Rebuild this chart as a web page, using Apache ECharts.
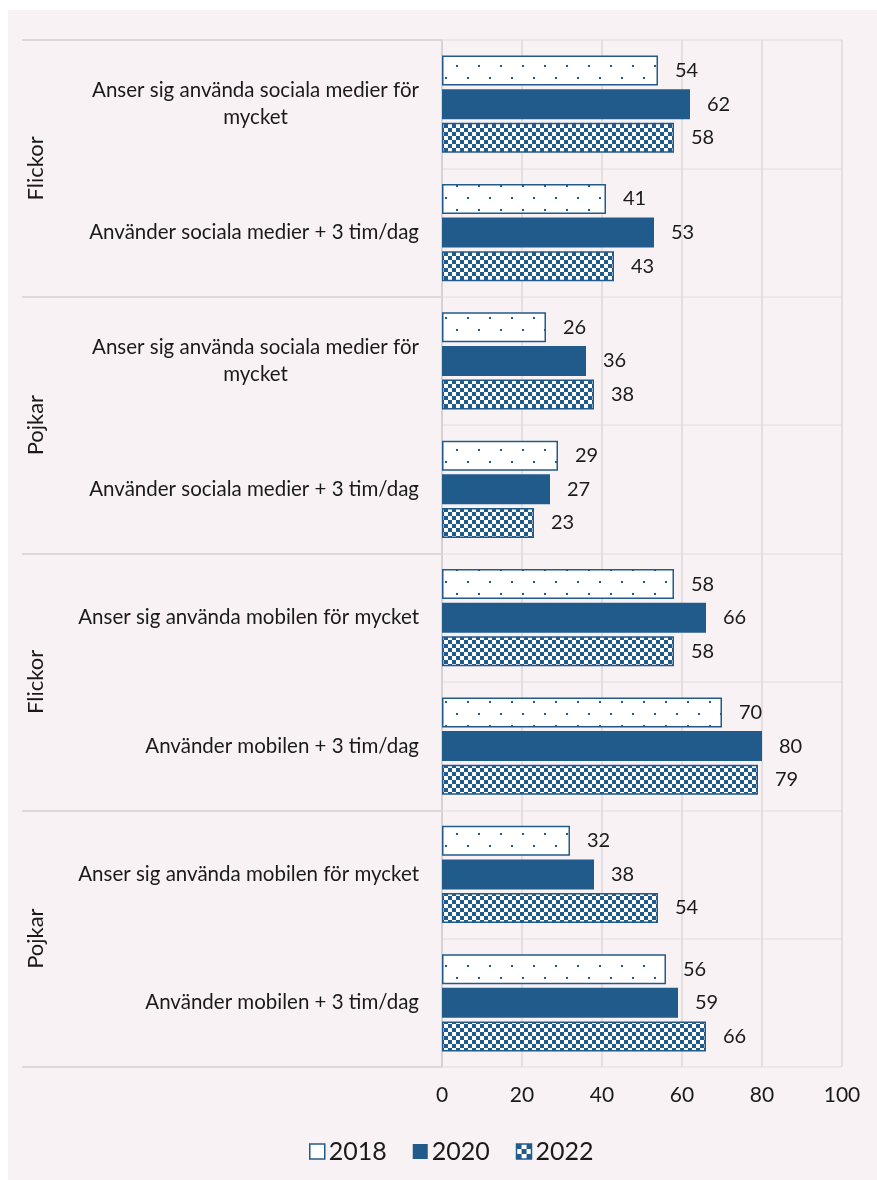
<!DOCTYPE html>
<html>
<head>
<meta charset="utf-8">
<script src="https://cdn.jsdelivr.net/npm/echarts@6/dist/echarts.min.js"></script>
<style>
  html, body { margin: 0; padding: 0; background: #ffffff; }
  #panel { position: absolute; left: 8px; top: 10px; width: 869px; height: 1170px; background: #f8f2f4; }
  #chart { position: absolute; left: 0; top: 0; width: 877px; height: 1180px; }
</style>
</head>
<body>
<div id="panel"></div>
<div id="chart"></div>
<script>
// Survey items (rows, top to bottom) and the gender group each pair belongs to
const categories = [
  'Anser sig använda sociala medier för\nmycket',
  'Använder sociala medier + 3 tim/dag',
  'Anser sig använda sociala medier för\nmycket',
  'Använder sociala medier + 3 tim/dag',
  'Anser sig använda mobilen för mycket',
  'Använder mobilen + 3 tim/dag',
  'Anser sig använda mobilen för mycket',
  'Använder mobilen + 3 tim/dag'
];
const groups = ['Flickor', 'Pojkar', 'Flickor', 'Pojkar'];
const years = ['2018', '2020', '2022'];
const values2018 = [54, 41, 26, 29, 58, 70, 32, 56];
const values2020 = [62, 53, 36, 27, 66, 80, 38, 59];
const values2022 = [58, 43, 38, 23, 58, 79, 54, 66];
const xTicks = [0, 20, 40, 60, 80, 100];

const BLUE = '#215b8c';
const TEXT = '#1a1a1a';
const GRID = '#dcd9da';
const FONT = 'Lato, "Open Sans", sans-serif';

// Dotted fill for 2018
function dotPattern() {
  const c = document.createElement('canvas');
  c.width = 22; c.height = 24;
  const g = c.getContext('2d');
  g.fillStyle = '#ffffff'; g.fillRect(0, 0, 22, 24);
  g.fillStyle = BLUE;
  g.fillRect(5, 5, 2, 2);
  g.fillRect(16, 17, 2, 2);
  return c;
}
// Checkerboard fill for 2022
function checkPattern(size) {
  const c = document.createElement('canvas');
  c.width = size * 2; c.height = size * 2;
  const g = c.getContext('2d');
  g.fillStyle = '#ffffff'; g.fillRect(0, 0, size * 2, size * 2);
  g.fillStyle = BLUE;
  g.fillRect(0, 0, size, size);
  g.fillRect(size, size, size, size);
  return c;
}

const valueLabel = {
  show: true, position: 'right', distance: 17,
  fontSize: 20, color: TEXT, fontFamily: FONT
};

function catLabel(v) {
  if (v.indexOf('\n') < 0) return v;
  return v.split('\n').map(s => '{c|' + s + '}').join('\n');
}

const chart = echarts.init(document.getElementById('chart'));
chart.setOption({
  backgroundColor: 'transparent',
  animation: false,
  textStyle: { fontFamily: FONT },
  grid: { left: 442, right: 35, top: 40, bottom: 113, containLabel: false },
  legend: {
    data: [
      { name: years[0], itemStyle: { color: '#ffffff', borderColor: BLUE, borderWidth: 1.5 } },
      { name: years[1] },
      { name: years[2], itemStyle: { color: { image: checkPattern(5), repeat: 'repeat' }, borderColor: BLUE, borderWidth: 1.5 } }
    ],
    icon: 'rect',
    left: 304, top: 1134,
    itemWidth: 15, itemHeight: 15, itemGap: 26,
    textStyle: { fontSize: 25, color: TEXT, fontFamily: FONT, padding: [0, 0, 0, -1] }
  },
  xAxis: {
    type: 'value', min: 0, max: 100, interval: 20,
    axisLine: { show: false }, axisTick: { show: false },
    axisLabel: { fontSize: 21, color: TEXT, margin: 18, fontFamily: FONT,
      customValues: xTicks },
    splitLine: { show: true, lineStyle: { color: GRID, width: 1.5 } }
  },
  yAxis: [
    {
      type: 'category', inverse: true, data: categories,
      axisLine: { show: true, lineStyle: { color: '#d6d3d4', width: 2 } },
      axisTick: { show: false },
      axisLabel: {
        margin: 23, fontSize: 20.5, color: TEXT, fontFamily: FONT, lineHeight: 27,
        formatter: catLabel,
        rich: { c: { align: 'center', fontSize: 20.5, color: TEXT, fontFamily: FONT, lineHeight: 27 } }
      },
      splitLine: { show: true, lineStyle: { color: '#e8e4e6', width: 1.5 } }
    },
    {
      type: 'category', inverse: true, data: groups, position: 'left',
      axisLine: { show: false },
      axisTick: { show: true, length: 420, lineStyle: { color: GRID, width: 2 } },
      axisLabel: { rotate: 90, margin: 395, fontSize: 22, color: TEXT, fontFamily: FONT },
      splitLine: { show: false }
    }
  ],
  series: [
    {
      name: years[0], type: 'bar', yAxisIndex: 0, data: values2018,
      barWidth: 30, barGap: '12%',
      itemStyle: { color: { image: dotPattern(), repeat: 'repeat' }, borderColor: BLUE, borderWidth: 1.5 },
      label: valueLabel
    },
    {
      name: years[1], type: 'bar', yAxisIndex: 0, data: values2020,
      barWidth: 30, barGap: '12%',
      itemStyle: { color: BLUE },
      label: valueLabel
    },
    {
      name: years[2], type: 'bar', yAxisIndex: 0, data: values2022,
      barWidth: 30, barGap: '12%',
      itemStyle: { color: { image: checkPattern(4), repeat: 'repeat' }, borderColor: BLUE, borderWidth: 1.5 },
      label: valueLabel
    }
  ]
});
</script>
</body>
</html>
